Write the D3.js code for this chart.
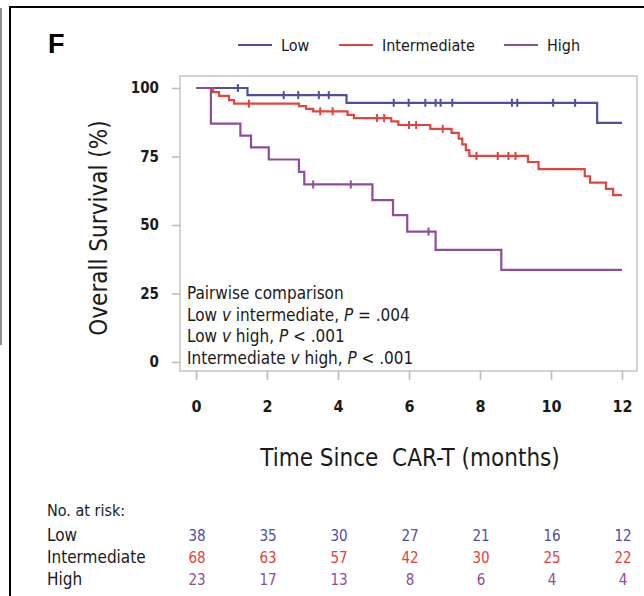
<!DOCTYPE html>
<html>
<head>
<meta charset="utf-8">
<script src="https://cdn.jsdelivr.net/npm/d3@7"></script>
<style>
  html, body { margin: 0; padding: 0; background: #fff; }
  svg { display: block; }
  text { font-family: "DejaVu Sans Condensed", "DejaVu Sans", sans-serif; fill: #1a1a1a; }
</style>
</head>
<body>
<svg id="chart" width="644" height="596"></svg>
<script>
// Risk groups and colours
const groups = ["Low", "Intermediate", "High"];
const colors = ["#4f4f9e", "#e2433d", "#8d4d9d"];

// Kaplan–Meier steps: [time in months, survival % after the drop]
const lowSteps = [[0, 100], [1.45, 97.4], [4.24, 94.6], [11.3, 87.3]];
const intSteps = [[0, 100], [0.48, 98.5], [0.65, 97.1], [0.93, 95.6], [1.07, 94.3],
  [2.9, 93.4], [3.1, 92.4], [3.3, 91.5], [4.27, 90.2], [4.45, 89.0],
  [5.5, 87.8], [5.7, 86.5], [6.6, 85.1], [7.2, 83.6], [7.4, 81.5],
  [7.5, 79.4], [7.6, 77.3], [7.7, 75.2], [9.35, 73.0], [9.65, 70.4],
  [10.95, 67.8], [11.1, 65.5], [11.55, 63.2], [11.75, 60.9]];
const highSteps = [[0, 100], [0.42, 87.0], [1.25, 82.6], [1.55, 78.3], [2.05, 73.9],
  [2.9, 69.4], [3.05, 64.8], [4.97, 59.1], [5.55, 53.6], [5.95, 47.6],
  [6.75, 40.9], [8.6, 33.6]];
const followUpEnd = 12;

// Censoring times (months)
const lowCensor = [1.18, 2.47, 2.88, 3.46, 3.74, 5.57, 5.99, 6.46, 6.75, 6.89, 7.22, 8.9, 9.05, 10.06, 10.68];
const intCensor = [1.49, 3.5, 3.85, 5.1, 5.3, 6.0, 6.2, 6.95, 7.9, 8.5, 8.8, 9.0];
const highCensor = [3.3, 4.36, 6.55];

// Axes
const xTicks = [0, 2, 4, 6, 8, 10, 12];
const yTicks = [0, 25, 50, 75, 100];

// Numbers at risk at each x tick
const riskLow = [38, 35, 30, 27, 21, 16, 12];
const riskInt = [68, 63, 57, 42, 30, 25, 22];
const riskHigh = [23, 17, 13, 8, 6, 4, 4];

const pairwise = [
  ["Pairwise comparison"],
  ["Low ", ["v"], " intermediate, ", ["P"], " = .004"],
  ["Low ", ["v"], " high, ", ["P"], " < .001"],
  ["Intermediate ", ["v"], " high, ", ["P"], " < .001"]
];

const svg = d3.select("#chart");

// Panel frame
svg.append("line").attr("x1", 1).attr("x2", 1).attr("y1", 8).attr("y2", 345)
  .attr("stroke", "#444").attr("stroke-width", 1.2);
svg.append("path").attr("d", "M10,596 V7 H644").attr("fill", "none")
  .attr("stroke", "#000").attr("stroke-width", 2);

svg.append("text").attr("x", 48).attr("y", 53).text("F")
  .style("font-family", "'Liberation Sans', Arial, sans-serif")
  .style("font-weight", "bold").style("font-size", "27px").style("fill", "#000");

const box = { left: 180, right: 637, top: 76, bottom: 371 };
const x = d3.scaleLinear().domain([0, 12]).range([196, 622]);
const y = d3.scaleLinear().domain([0, 100]).range([362, 88]);

// Plot frame
svg.append("rect").attr("x", box.left).attr("y", box.top)
  .attr("width", box.right - box.left).attr("height", box.bottom - box.top)
  .attr("fill", "none").attr("stroke", "#cfcfcf").attr("stroke-width", 1.8);

const yAxis = svg.append("g").attr("transform", `translate(${box.left},0)`)
  .call(d3.axisLeft(y).tickValues(yTicks).tickSize(8).tickPadding(13));
const xAxis = svg.append("g").attr("transform", `translate(0,${box.bottom})`)
  .call(d3.axisBottom(x).tickValues(xTicks).tickSize(9).tickPadding(21));
[yAxis, xAxis].forEach(g => {
  g.select(".domain").remove();
  g.selectAll(".tick line").attr("stroke", "#bdbdbd").attr("stroke-width", 1.6);
  g.selectAll(".tick text").style("fill", "#1a1a1a")
    .style("font-family", "\"DejaVu Sans Condensed\", sans-serif")
    .style("font-weight", "bold");
});
yAxis.selectAll(".tick text").style("font-size", "15px");
xAxis.selectAll(".tick text").style("font-size", "16px");

svg.append("text").attr("transform", "translate(107,228) rotate(-90)")
  .attr("text-anchor", "middle").style("font-size", "24px").text("Overall Survival (%)");

svg.append("text").attr("x", 410).attr("y", 466).attr("text-anchor", "middle")
  .style("font-size", "24px").attr("xml:space", "preserve")
  .text("Time Since  CAR-T (months)");

// Survival curves
const series = [
  { steps: lowSteps, censor: lowCensor },
  { steps: intSteps, censor: intCensor },
  { steps: highSteps, censor: highCensor }
];
const stepLine = d3.line().x(d => x(d[0])).y(d => y(d[1])).curve(d3.curveStepAfter);

function valueAt(steps, t) {
  let v = steps[0][1];
  for (const s of steps) if (s[0] <= t) v = s[1];
  return v;
}

series.forEach((s, i) => {
  const pts = s.steps.concat([[followUpEnd, s.steps[s.steps.length - 1][1]]]);
  svg.append("path").datum(pts).attr("d", stepLine)
    .attr("fill", "none").attr("stroke", colors[i]).attr("stroke-width", 2.2);
  svg.append("g").selectAll("line").data(s.censor).join("line")
    .attr("x1", d => x(d)).attr("x2", d => x(d))
    .attr("y1", d => y(valueAt(s.steps, d)) - 4)
    .attr("y2", d => y(valueAt(s.steps, d)) + 4)
    .attr("stroke", colors[i]).attr("stroke-width", 2);
});

// Legend
const legendX = [238, 339, 504];
groups.forEach((g, i) => {
  svg.append("line").attr("x1", legendX[i]).attr("x2", legendX[i] + 34)
    .attr("y1", 45).attr("y2", 45).attr("stroke", colors[i]).attr("stroke-width", 2);
  svg.append("text").attr("x", legendX[i] + 43).attr("y", 51)
    .style("font-size", "16px").text(g);
});

// Pairwise comparison note
pairwise.forEach((line, i) => {
  const t = svg.append("text").attr("x", 187).attr("y", 299 + i * 21.5)
    .attr("xml:space", "preserve").style("font-size", "17px");
  line.forEach(part => {
    if (Array.isArray(part)) t.append("tspan").style("font-style", "italic").text(part[0]);
    else t.append("tspan").text(part);
  });
});

// Numbers at risk
svg.append("text").attr("x", 47).attr("y", 516).style("font-size", "16px").text("No. at risk:");
const riskRows = [riskLow, riskInt, riskHigh];
const rowY = [541, 563, 585];
groups.forEach((g, i) => {
  svg.append("text").attr("x", 47).attr("y", rowY[i]).style("font-size", "17px").text(g);
  svg.append("g").selectAll("text").data(riskRows[i]).join("text")
    .attr("x", (d, j) => x(xTicks[j]) + 1).attr("y", rowY[i])
    .attr("text-anchor", "middle").style("font-size", "15px")
    .style("fill", colors[i]).text(d => d);
});
</script>
</body>
</html>
